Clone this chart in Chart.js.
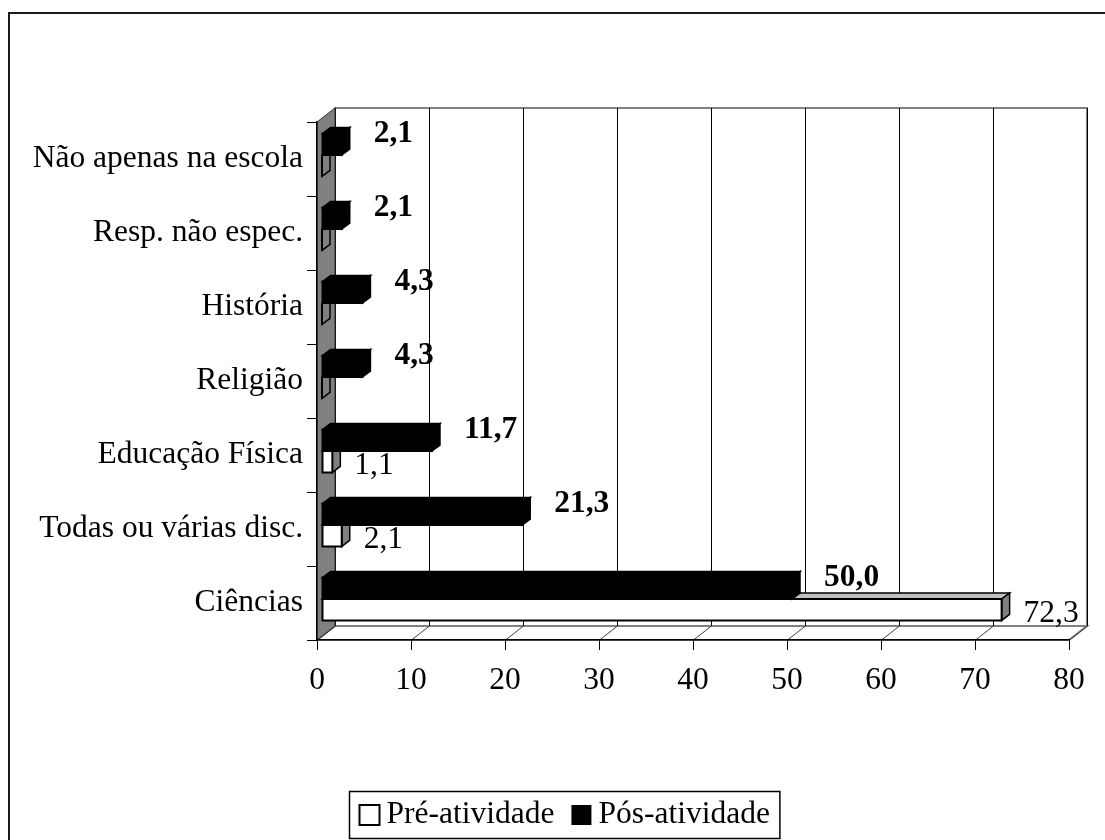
<!DOCTYPE html>
<html>
<head>
<meta charset="utf-8">
<script src="https://cdn.jsdelivr.net/npm/chart.js@4"></script>
<style>body{margin:0;background:#fff}</style>
</head>
<body>
<canvas id="chart" width="1105" height="840"></canvas>
<script>
// Data
const categories = ["Não apenas na escola", "Resp. não espec.", "História", "Religião", "Educação Física", "Todas ou várias disc.", "Ciências"];
const preValues = [0, 0, 0, 0, 1.1, 2.1, 72.3];
const posValues = [2.1, 2.1, 4.3, 4.3, 11.7, 21.3, 50.0];
const seriesNames = ["Pré-atividade", "Pós-atividade"];
const xTicks = [0, 10, 20, 30, 40, 50, 60, 70, 80];

const FONT = "Liberation Serif, Times New Roman, serif";
const FS = 31.5;
// wall depth and bar depth (3d look)
const WX = 18, WY = 14;
const BX = 5, BY = 4;   // bar offset into the wall
const DX = 8, DY = 6;   // bar own depth

const fmt = (v) => v.toFixed(1).replace(".", ",");

function face(ctx, pts, fill, stroke, lw) {
    ctx.beginPath();
    ctx.moveTo(pts[0][0], pts[0][1]);
    for (let i = 1; i < pts.length; i++) ctx.lineTo(pts[i][0], pts[i][1]);
    ctx.closePath();
    ctx.fillStyle = fill;
    ctx.fill();
    if (stroke) {
        ctx.strokeStyle = stroke;
        ctx.lineWidth = lw || 1;
        ctx.stroke();
    }
}

function bar3d(ctx, x0, x1, yt, yb, colors) {
    face(ctx, [[x0, yt], [x0 + DX, yt - DY], [x1 + DX, yt - DY], [x1, yt]], colors.top, colors.stroke, 1.5);
    face(ctx, [[x1, yt], [x1 + DX, yt - DY], [x1 + DX, yb - DY], [x1, yb]], colors.side, colors.stroke, 1.5);
    face(ctx, [[x0, yt], [x1, yt], [x1, yb], [x0, yb]], colors.front, colors.stroke, 2);
}

const whiteBar = { front: "#ffffff", top: "#c0c0c0", side: "#808080", stroke: "#000" };
const blackBar = { front: "#000000", top: "#000000", side: "#000000", stroke: "#000" };

const walls = {
    id: "walls",
    beforeDraw(chart) {
        const ctx = chart.ctx;
        const a = chart.chartArea;
        const xs = chart.scales.x;
        ctx.save();
        ctx.fillStyle = "#fff";
        ctx.fillRect(0, 0, chart.width, chart.height);

        // back wall
        face(ctx, [[a.left + WX, a.top - WY], [a.right + WX, a.top - WY], [a.right + WX, a.bottom - WY], [a.left + WX, a.bottom - WY]], "#fff", "#808080", 2);
        // floor
        face(ctx, [[a.left, a.bottom], [a.left + WX, a.bottom - WY], [a.right + WX, a.bottom - WY], [a.right, a.bottom]], "#fff", "#808080", 2);
        // grid lines on wall and floor
        ctx.lineWidth = 1;
        xTicks.forEach((v) => {
            const px = Math.round(xs.getPixelForValue(v)) + 0.5;
            ctx.strokeStyle = "#000";
            ctx.beginPath();
            ctx.moveTo(px + WX, a.top - WY);
            ctx.lineTo(px + WX, a.bottom - WY);
            ctx.stroke();
            ctx.strokeStyle = "#404040";
            ctx.beginPath();
            ctx.moveTo(px, a.bottom);
            ctx.lineTo(px + WX, a.bottom - WY);
            ctx.stroke();
        });
        // side wall
        face(ctx, [[a.left, a.top], [a.left + WX, a.top - WY], [a.left + WX, a.bottom - WY], [a.left, a.bottom]], "#808080", "#303030", 1);
        ctx.restore();
    },
    beforeDatasetsDraw(chart) {
        const ctx = chart.ctx;
        const posMeta = chart.getDatasetMeta(0);
        const preMeta = chart.getDatasetMeta(1);
        ctx.save();
        categories.forEach((c, i) => {
            [[preMeta.data[i], whiteBar], [posMeta.data[i], blackBar]].forEach(([el, col]) => {
                const p = el.getProps(["x", "y", "base", "height"], true);
                const x0 = p.base + BX, x1 = p.x + BX;
                const yt = p.y - p.height / 2 - BY, yb = p.y + p.height / 2 - BY;
                bar3d(ctx, x0, x1, yt, yb, col);
            });
        });
        ctx.restore();
        return false;
    },
    afterDraw(chart) {
        const ctx = chart.ctx;
        const posMeta = chart.getDatasetMeta(0);
        const preMeta = chart.getDatasetMeta(1);
        ctx.save();
        ctx.fillStyle = "#000";
        ctx.textBaseline = "middle";
        ctx.textAlign = "left";
        categories.forEach((c, i) => {
            const pe = posMeta.data[i].getProps(["x", "y", "height"], true);
            ctx.font = "bold " + FS + "px " + FONT;
            ctx.fillText(fmt(posValues[i]), pe.x + BX + DX + 24, pe.y - BY - 10);
            if (preValues[i] > 0) {
                const pr = preMeta.data[i].getProps(["x", "y", "height"], true);
                ctx.font = FS + "px " + FONT;
                ctx.fillText(fmt(preValues[i]), pr.x + BX + DX + 14, pr.y - BY + 4);
            }
        });

        // legend
        ctx.font = FS + "px " + FONT;
        const pad = 10, sq = 20, gap = 7, itemGap = 17;
        const w0 = ctx.measureText(seriesNames[0]).width;
        const w1 = ctx.measureText(seriesNames[1]).width;
        const total = pad + sq + gap + w0 + itemGap + sq + gap + w1 + pad;
        const lx = Math.round(564 - total / 2) + 0.5;
        const ly = 791.5, lh = 47;
        ctx.strokeStyle = "#000";
        ctx.lineWidth = 1.5;
        ctx.strokeRect(lx, ly, total, lh);
        const cy = ly + lh / 2;
        let x = lx + pad;
        ctx.lineWidth = 2;
        ctx.fillStyle = "#fff";
        ctx.fillRect(x, cy - sq / 2, sq, sq);
        ctx.strokeRect(x, cy - sq / 2, sq, sq);
        x += sq + gap;
        ctx.fillStyle = "#000";
        ctx.fillText(seriesNames[0], x, cy);
        x += w0 + itemGap;
        ctx.fillRect(x, cy - sq / 2, sq, sq);
        x += sq + gap;
        ctx.fillText(seriesNames[1], x, cy);

        // outer frame
        ctx.lineWidth = 2;
        ctx.strokeStyle = "#1a1a1a";
        ctx.beginPath();
        ctx.moveTo(9, chart.height);
        ctx.lineTo(9, 13);
        ctx.lineTo(chart.width, 13);
        ctx.stroke();
        ctx.restore();
    }
};

new Chart(document.getElementById("chart").getContext("2d"), {
    type: "bar",
    data: {
        labels: categories,
        datasets: [
            { label: seriesNames[1], data: posValues, backgroundColor: "#000", borderColor: "#000" },
            { label: seriesNames[0], data: preValues, backgroundColor: "#fff", borderColor: "#000" },
        ],
    },
    options: {
        indexAxis: "y",
        responsive: false,
        animation: false,
        devicePixelRatio: 1,
        categoryPercentage: 0.58,
        barPercentage: 1.0,
        layout: { padding: { left: 0, top: 122, right: 36, bottom: 140 } },
        plugins: { legend: { display: false }, tooltip: { enabled: false } },
        scales: {
            x: {
                min: 0,
                max: 80,
                ticks: { stepSize: 10, color: "#000", font: { family: FONT, size: FS }, padding: 12, maxRotation: 0 },
                grid: { drawOnChartArea: false, tickLength: 10, color: "#000" },
                border: { color: "#000", width: 1.5 },
                afterFit: (s) => { s.height = 60; },
            },
            y: {
                ticks: { color: "#000", font: { family: FONT, size: FS }, padding: 4 },
                grid: { drawOnChartArea: false, tickLength: 10, color: "#000", offset: true },
                border: { color: "#000", width: 1.5 },
                afterFit: (s) => { s.width = 317; },
            },
        },
    },
    plugins: [walls],
});
</script>
</body>
</html>
